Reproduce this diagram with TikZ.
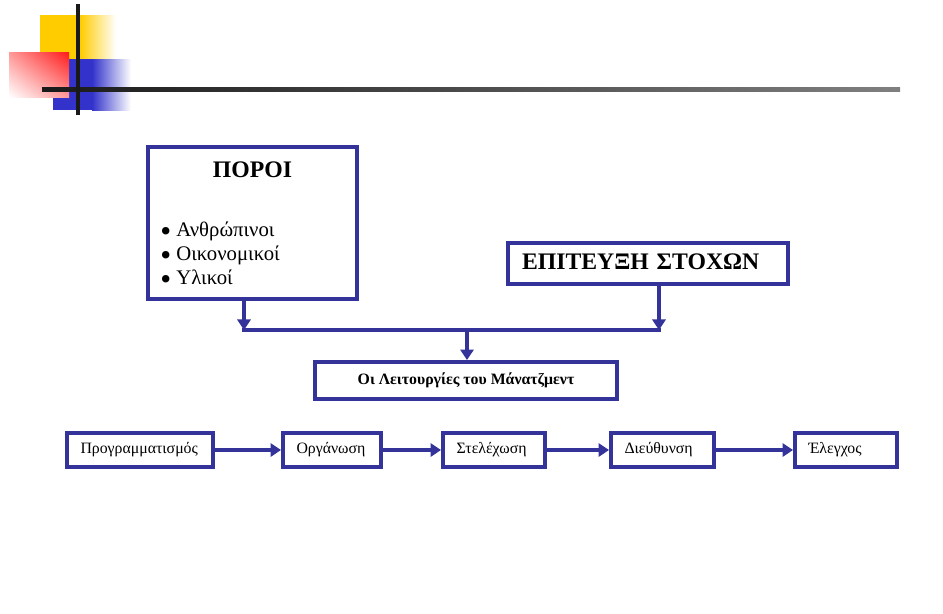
\documentclass[tikz,border=0pt]{standalone}
\usepackage{fontspec}
\setmainfont{Liberation Serif}
\usepackage{graphicx}
\usepackage{tikz}
\definecolor{boxblue}{HTML}{333399}
\definecolor{logoyellow}{HTML}{FFCC00}
\definecolor{logoblue}{HTML}{3333CC}
\definecolor{logored}{HTML}{FF1A1A}
\usetikzlibrary{arrows.meta,shadings}
\newcommand{\listdot}{\smash{\raisebox{-0.25em}{\scalebox{1.5}{•}}}}
\tikzstyle{box}=[rectangle, draw=boxblue, line width=2.2pt, fill=white, inner sep=0pt]
\tikzstyle{step box}=[box, minimum height=0.68cm, align=left, inner xsep=0.27cm, text height=0.7em, text depth=0.25em, font=\fontsize{9}{11}\selectfont]
\tikzstyle{flow}=[draw=boxblue, line width=2.2pt, -{Triangle[length=6pt, width=7.5pt]}]

\begin{document}
\begin{tikzpicture}[x=0.02cm, y=-0.02cm]
			\useasboundingbox (0,0) rectangle (943,613);
			% logo
			\fill[logoyellow] (40,15) rectangle (80,60);
			\shade[left color=logoyellow, right color=white] (80,15) rectangle (116,60);
			\fill[logoblue] (53,59) rectangle (92,110);
			\shade[left color=logoblue, right color=white] (92,59) rectangle (131,110);
			\shade[upper right=logored, lower left=white, upper left=logored!45, lower right=logored!45] (9,52) rectangle (69,97);
			\shade[left color=black!90, right color=black!50] (42,87) rectangle (900,91);
			\fill[black!90] (76,4) rectangle (80,115);
			% boxes
			\node[box, minimum width=4.18cm, minimum height=3.04cm] (poroi) at (252.5,223) {};
			\node[anchor=base, inner sep=0pt, font=\bfseries\fontsize{13.5}{15}\selectfont] (poroititle) at (252.5,177) {ΠΟΡΟΙ};
			\foreach \resname/\resy [count=\i] in {Ανθρώπινοι/236, Οικονομικοί/260, Υλικοί/284}
				\node[anchor=base west, inner sep=0pt, font=\fontsize{11.8}{14}\selectfont] (res\i) at (160,\resy) {\listdot\hspace{0.25em}\resname};
			\node[box, align=left, text width=5.04cm, inner xsep=0.28cm, minimum height=0.82cm, text height=0.7em, text depth=0pt, font=\bfseries\fontsize{13.5}{15}\selectfont] (stoxoi) at (648,263.5) {ΕΠΙΤΕΥΞΗ ΣΤΟΧΩΝ};
			\node[box, minimum width=6.04cm, minimum height=0.74cm, text height=0.7em, text depth=0.25em, font=\bfseries\fontsize{9}{10}\selectfont] (manage) at (466,380.5) {Οι Λειτουργίες του Μάνατζμεντ};
			\coordinate (joinl) at (244,330);
			\coordinate (joinr) at (659,330);
			\coordinate (joinm) at (467,330);
			\path[flow] (poroi.south -| joinl) -- (joinl);
			\path[flow] (stoxoi.south -| joinr) -- (joinr);
			\path[draw=boxblue, line width=2.2pt, line cap=rect] (joinl) -- (joinr);
			\path[flow] (joinm) -- (manage.north -| joinm);
			% functions
			\node[step box, text width=2.38cm] (plan) at (140,450) {Προγραμματισμός};
			\node[step box, text width=1.42cm] (organ) at (332,450) {Οργάνωση};
			\node[step box, text width=1.50cm] (staff) at (494,450) {Στελέχωση};
			\node[step box, text width=1.52cm] (lead) at (662.5,450) {Διεύθυνση};
			\node[step box, text width=1.50cm] (control) at (846,450) {Έλεγχος};
			\path[flow] (plan) -- (organ);
			\path[flow] (organ) -- (staff);
			\path[flow] (staff) -- (lead);
			\path[flow] (lead) -- (control);
		\end{tikzpicture}
\end{document}
